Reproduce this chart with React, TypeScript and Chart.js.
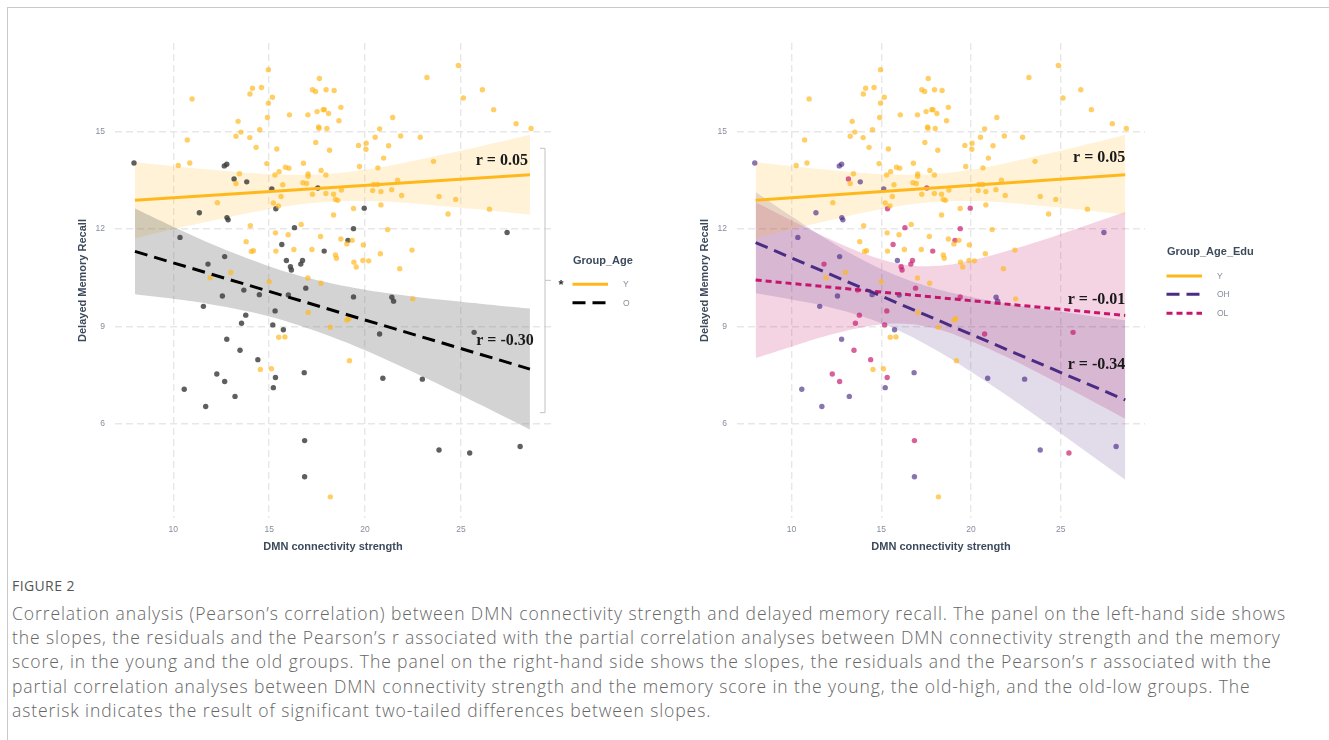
import React, { useEffect, useLayoutEffect, useRef, useState } from "react";
import { Chart, registerables } from "chart.js";

Chart.register(...registerables);

// ---------- data ----------
const xTicks = [10, 15, 20, 25];
const yTicks = [6, 9, 12, 15];

// x positions at which the confidence bands were read
const bandX = [8, 10, 12, 14, 16, 18, 20, 22, 24, 26, 28.6];
const youngBandUpper = [14.05, 13.93, 13.82, 13.72, 13.67, 13.69, 13.82, 14.03, 14.28, 14.54, 14.9];
const youngBandLower = [11.71, 11.99, 12.25, 12.5, 12.71, 12.83, 12.86, 12.81, 12.71, 12.6, 12.44];
const oldBandUpper = [12.63, 12.07, 11.54, 11.07, 10.66, 10.36, 10.13, 9.96, 9.82, 9.7, 9.55];
const oldBandLower = [9.99, 9.85, 9.68, 9.45, 9.14, 8.74, 8.27, 7.74, 7.18, 6.6, 5.83];
const ohBandUpper = [13.14, 12.39, 11.67, 11.04, 10.54, 10.17, 9.91, 9.7, 9.53, 9.38, 9.19];
const ohBandLower = [10.02, 9.83, 9.61, 9.3, 8.87, 8.29, 7.61, 6.88, 6.11, 5.32, 4.29];
const olBandUpper = [12.83, 12.26, 11.72, 11.25, 10.93, 10.86, 11.03, 11.32, 11.66, 12.03, 12.52];
const olBandLower = [8.03, 8.38, 8.72, 8.98, 9.09, 8.94, 8.55, 8.06, 7.5, 6.93, 6.16];

// fitted regression lines (end points)
const fitX = [8, 28.6];
const youngFit = [12.88, 13.67];
const oldFit = [11.31, 7.69];
const ohFit = [11.58, 6.74];
const olFit = [10.43, 9.34];

// young participants
const youngX = [
  14.96, 10.98, 14.0, 14.13, 14.6, 14.96, 15.17, 14.91, 13.38, 14.51, 13.53, 13.27, 13.99, 10.73, 14.32, 15.4,
  16.06, 17.02, 17.26, 17.42, 17.62, 17.97, 18.39, 17.5, 17.82, 17.88, 18.1, 18.74, 17.58, 17.6, 18.01, 18.64,
  17.43, 18.15, 19.66, 10.26, 10.86, 14.88, 15.85, 16.03, 16.79, 17.71, 19.71, 15.3, 15.52, 13.45, 13.27, 15.71,
  17.03, 17.03, 16.76, 16.95, 17.96, 17.26, 17.96, 18.36, 18.46, 18.58, 18.77, 15.62, 15.22, 15.48, 12.3, 18.36,
  19.4, 14.02, 16.67, 15.33, 15.99, 13.8, 16.29, 14.18, 14.07, 15.35, 17.23, 17.68, 18.74, 19.05, 19.33, 18.46,
  18.51, 19.42, 19.54, 13.0, 11.92, 15.0, 17.02, 17.7,
  17.04, 15.5, 15.82, 18.19, 19.05, 19.16, 14.54, 15.12, 19.19, 18.19,
  24.87, 23.23, 26.12, 25.13, 26.71, 21.44, 27.88, 28.66, 20.76, 20.53, 21.86, 22.88, 20.06, 20.05, 21.23, 20.97,
  20.67, 23.57, 21.7, 20.45, 20.66, 20.4, 20.83, 21.39, 21.91, 23.86, 24.73, 20.83, 24.33, 26.49, 21.18, 19.91,
  20.8, 22.45, 19.89, 20.19, 21.81, 22.49,
];
const youngY = [
  16.9, 16.0, 16.15, 16.33, 16.35, 15.87, 16.05, 15.43, 15.31, 15.05, 14.98, 14.85, 14.81, 14.74, 14.51, 14.46,
  15.51, 15.51, 16.28, 16.23, 16.63, 16.28, 16.26, 15.61, 15.67, 15.67, 15.55, 15.74, 15.14, 15.1, 15.09, 15.33,
  14.66, 14.42, 14.57, 13.95, 14.03, 14.01, 13.9, 13.87, 14.02, 13.8, 13.92, 13.66, 13.76, 13.7, 13.4, 13.36,
  13.69, 13.62, 13.42, 13.4, 13.66, 13.07, 13.09, 13.07, 12.91, 12.88, 13.2, 13.0, 12.8, 12.71, 12.81, 12.43,
  12.63, 12.1, 12.14, 11.88, 11.82, 11.61, 11.37, 11.33, 11.31, 11.32, 11.37, 11.77, 11.69, 11.54, 11.65, 11.2,
  11.1, 10.98, 10.83, 10.66, 10.5, 10.38, 10.49, 10.33,
  9.43, 8.67, 8.68, 8.98, 9.2, 9.24, 7.68, 7.7, 7.95, 3.76,
  17.03, 16.66, 16.28, 16.03, 15.67, 15.43, 15.24, 15.09, 15.08, 14.82, 14.86, 14.82, 14.64, 14.45, 14.56, 14.18,
  13.88, 14.08, 13.5, 13.37, 13.37, 13.18, 13.15, 13.21, 13.03, 13.0, 12.91, 12.74, 12.46, 12.61, 11.98, 11.51,
  11.24, 11.35, 11.03, 11.02, 10.78, 9.85,
];

// old participants (education: H = high, L = low)
const oldX = [
  7.95, 12.66, 12.79, 13.17, 13.83, 15.14, 17.54, 15.35, 11.36, 12.8, 12.86, 16.32, 19.4, 10.35, 15.66, 19.11,
  17.87, 15.9, 16.74, 16.65, 16.11, 16.16, 12.68, 11.81, 16.91, 19.4, 13.68, 14.49, 12.56, 11.57, 15.31, 13.78,
  13.56, 15.19, 15.74, 12.79, 13.48, 14.41, 12.27, 12.68, 15.33, 15.22, 16.83, 10.57, 13.22, 11.69, 16.85, 16.85,
  19.96, 27.41, 21.4, 21.49, 20.76, 20.93, 22.99, 25.69, 23.86, 25.46, 28.09, 16.0,
];
const oldY = [
  14.03, 13.94, 13.99, 13.54, 13.45, 13.23, 13.26, 12.62, 12.5, 12.35, 12.28, 12.04, 12.01, 11.74, 11.52, 11.65,
  11.32, 11.03, 11.03, 10.92, 10.84, 10.74, 11.15, 10.92, 10.18, 9.91, 10.12, 9.98, 9.94, 9.62, 9.48, 9.35,
  9.1, 9.05, 8.9, 8.61, 8.27, 7.98, 7.54, 7.31, 7.43, 7.12, 7.58, 7.07, 6.85, 6.54, 5.49, 4.38,
  12.64, 11.89, 9.9, 9.78, 8.77, 7.41, 7.38, 8.82, 5.2, 5.11, 5.31, 9.97,
];
const oldEdu = [
  "H", "H", "H", "L", "H", "H", "L", "L", "H", "H", "H", "L", "L", "H", "L", "L",
  "L", "H", "L", "L", "L", "L", "H", "L", "L", "L", "L", "H", "H", "H", "L", "L",
  "L", "L", "H", "H", "L", "L", "L", "L", "L", "H", "H", "H", "H", "H", "L", "H",
  "L", "H", "H", "H", "L", "H", "H", "L", "H", "L", "H", "H",
];

const leftLabels = [
  { text: "r = 0.05", x: 28.5, y: 14.1 },
  { text: "r = -0.30", x: 28.8, y: 8.55 },
];
const rightLabels = [
  { text: "r = 0.05", x: 28.6, y: 14.18 },
  { text: "r = -0.01", x: 28.6, y: 9.82 },
  { text: "r = -0.34", x: 28.6, y: 7.82 },
];

const captionLines = [
  "Correlation analysis (Pearson\u2019s correlation) between DMN connectivity strength and delayed memory recall. The panel on the left-hand side shows",
  "the slopes, the residuals and the Pearson\u2019s r associated with the partial correlation analyses between DMN connectivity strength and the memory",
  "score, in the young and the old groups. The panel on the right-hand side shows the slopes, the residuals and the Pearson\u2019s r associated with the",
  "partial correlation analyses between DMN connectivity strength and the memory score in the young, the old-high, and the old-low groups. The",
  "asterisk indicates the result of significant two-tailed differences between slopes.",
];

// ---------- styling ----------
const C_Y = "#FFB81C";
const C_O = "#000000";
const C_OH = "#4B2C85";
const C_OL = "#C5166B";
const SANS = '"Liberation Sans", Arial, sans-serif';
const CAPTION_WIDTH = 1274; // width of the first caption line in the reference

function pts(xs: number[], ys: number[], keep?: (i: number) => boolean) {
  const out: { x: number; y: number }[] = [];
  xs.forEach((x, i) => {
    if (!keep || keep(i)) out.push({ x, y: ys[i] });
  });
  return out;
}

function band(upper: number[], lower: number[], color: string, order: number) {
  return [
    {
      type: "line",
      data: pts(bandX, upper),
      borderWidth: 0,
      borderColor: "rgba(0,0,0,0)",
      backgroundColor: "rgba(0,0,0,0)",
      pointRadius: 0,
      fill: false,
      tension: 0.4,
      order,
    },
    {
      type: "line",
      data: pts(bandX, lower),
      borderWidth: 0,
      borderColor: "rgba(0,0,0,0)",
      backgroundColor: color,
      pointRadius: 0,
      fill: "-1",
      tension: 0.4,
      order,
    },
  ];
}

function fitLine(ys: number[], color: string, dash: number[]) {
  return {
    type: "line",
    data: pts(fitX, ys),
    borderColor: color,
    borderWidth: 3,
    borderDash: dash,
    borderCapStyle: "butt",
    pointRadius: 0,
    fill: false,
    tension: 0,
    order: 0,
  };
}

function dots(data: { x: number; y: number }[], color: string) {
  return {
    type: "scatter",
    data,
    backgroundColor: color,
    borderWidth: 0,
    pointRadius: 2.7,
    pointHoverRadius: 2.7,
    order: 1,
  };
}

const decorPlugin = {
  id: "decor",
  afterDraw(chart: any, _args: any, opts: any) {
    const { ctx, chartArea: ca, scales } = chart;
    const xs = scales.x;
    const ys = scales.y;
    ctx.save();
    // axis titles
    ctx.fillStyle = "#3d4a5c";
    ctx.font = `bold 11px ${SANS}`;
    ctx.textAlign = "center";
    ctx.textBaseline = "middle";
    ctx.fillText("DMN connectivity strength", (ca.left + ca.right) / 2, ca.bottom + 29);
    ctx.save();
    ctx.translate(ca.left - 32, (ca.top + ca.bottom) / 2);
    ctx.rotate(-Math.PI / 2);
    ctx.fillText("Delayed Memory Recall", 0, 0);
    ctx.restore();

    // r annotations
    ctx.font = 'bold 16px "Liberation Serif", "Times New Roman", serif';
    ctx.fillStyle = "#1a1a1a";
    ctx.textAlign = "right";
    for (const a of opts.labels) {
      ctx.fillText(a.text, xs.getPixelForValue(a.x), ys.getPixelForValue(a.y));
    }

    // legend
    const lg = opts.legend;
    const lx = ca.right + 22;
    ctx.textAlign = "left";
    ctx.font = `bold 11px ${SANS}`;
    ctx.fillStyle = "#3d4a5c";
    ctx.fillText(lg.title, lx, lg.titleY);
    for (const it of lg.items) {
      ctx.beginPath();
      ctx.strokeStyle = it.color;
      ctx.lineWidth = 3;
      ctx.lineCap = "butt";
      ctx.setLineDash(it.dash);
      ctx.moveTo(lx - 0.5, it.y);
      ctx.lineTo(lx + 35, it.y);
      ctx.stroke();
      ctx.setLineDash([]);
      ctx.font = `8.5px ${SANS}`;
      ctx.fillStyle = "#858d9c";
      ctx.fillText(it.label, lx + 50, it.y + 0.5);
    }

    // significance bracket
    if (opts.bracket) {
      const b = opts.bracket;
      const bx = ca.right - 6;
      const yt = ys.getPixelForValue(b.top);
      const yb = ys.getPixelForValue(b.bottom);
      const ym = ys.getPixelForValue(b.mid);
      ctx.strokeStyle = "#c2c2c2";
      ctx.lineWidth = 1;
      ctx.beginPath();
      ctx.moveTo(bx - 5, yt);
      ctx.lineTo(bx, yt);
      ctx.lineTo(bx, yb);
      ctx.lineTo(bx - 5, yb);
      ctx.moveTo(bx, ym);
      ctx.lineTo(bx + 6, ym);
      ctx.stroke();
      ctx.fillStyle = "#333";
      ctx.font = `bold 13px ${SANS}`;
      ctx.textAlign = "center";
      ctx.textBaseline = "alphabetic";
      ctx.fillText("*", ca.right + 10, ym + 8.5);
    }
    ctx.restore();
  },
};

function scaleOpts(min: number, max: number, ticks: number[], isX: boolean, size: number) {
  return {
    type: "linear",
    min,
    max,
    afterBuildTicks: (s: any) => {
      s.ticks = ticks.map((v) => ({ value: v }));
    },
    afterFit: (s: any) => {
      if (isX) s.height = size;
      else s.width = size;
    },
    grid: { color: "#e7e7e7", lineWidth: 1.4, drawTicks: false },
    border: { display: false, dash: [7, 4] },
    ticks: {
      padding: isX ? 7 : 10,
      color: "#858d9c",
      font: { family: SANS, size: 8.5 },
      callback: (v: any) => String(v),
    },
  };
}

function buildConfig(side: "left" | "right"): any {
  const young = pts(youngX, youngY);
  const yDots = "rgba(255,184,28,0.68)";
  let datasets: any[];
  let opts: any;
  if (side === "left") {
    datasets = [
      ...band(youngBandUpper, youngBandLower, "rgba(255,184,28,0.18)", 3),
      ...band(oldBandUpper, oldBandLower, "rgba(110,110,110,0.3)", 2),
      dots(young, yDots),
      dots(pts(oldX, oldY), "rgba(60,60,60,0.82)"),
      fitLine(youngFit, C_Y, []),
      fitLine(oldFit, C_O, [13, 7]),
    ];
    opts = {
      labels: leftLabels,
      legend: {
        title: "Group_Age",
        titleY: 260.7,
        items: [
          { label: "Y", color: C_Y, dash: [], y: 284.3 },
          { label: "O", color: C_O, dash: [13, 7], y: 302.7 },
        ],
      },
      bracket: { top: 14.48, bottom: 6.35, mid: 10.42 },
    };
  } else {
    datasets = [
      ...band(olBandUpper, olBandLower, "rgba(197,22,107,0.19)", 4),
      ...band(ohBandUpper, ohBandLower, "rgba(75,44,133,0.17)", 3),
      ...band(youngBandUpper, youngBandLower, "rgba(255,184,28,0.18)", 2),
      dots(young, yDots),
      dots(pts(oldX, oldY, (i) => oldEdu[i] === "H"), "rgba(75,44,133,0.66)"),
      dots(pts(oldX, oldY, (i) => oldEdu[i] === "L"), "rgba(197,22,107,0.68)"),
      fitLine(youngFit, C_Y, []),
      fitLine(ohFit, C_OH, [13, 7]),
      fitLine(olFit, C_OL, [6, 4]),
    ];
    opts = {
      labels: rightLabels,
      legend: {
        title: "Group_Age_Edu",
        titleY: 251.7,
        items: [
          { label: "Y", color: C_Y, dash: [], y: 276 },
          { label: "OH", color: C_OH, dash: [13, 7], y: 294.3 },
          { label: "OL", color: C_OL, dash: [6, 4], y: 313.3 },
        ],
      },
    };
  }
  const yAxisWidth = side === "left" ? 115 : 77;
  const rightPad = side === "left" ? 109 : 184;
  return {
    type: "scatter",
    data: { datasets },
    plugins: [decorPlugin],
    options: {
      animation: false,
      responsive: false,
      devicePixelRatio: 1,
      events: [],
      layout: { padding: { top: 43, right: rightPad, left: 0, bottom: 0 } },
      scales: {
        x: scaleOpts(6.96, 29.7, xTicks, true, 42),
        y: scaleOpts(3.11, 17.72, yTicks, false, yAxisWidth),
      },
      plugins: {
        legend: { display: false },
        tooltip: { enabled: false },
        decor: opts,
      },
    },
  };
}

function Panel({ side, left, width }: { side: "left" | "right"; left: number; width: number }) {
  const ref = useRef<HTMLCanvasElement>(null);
  useEffect(() => {
    const chart = new Chart(ref.current as HTMLCanvasElement, buildConfig(side));
    return () => chart.destroy();
  }, [side]);
  return (
    <canvas
      ref={ref}
      width={width}
      height={560}
      style={{ position: "absolute", left, top: 0, width, height: 560 }}
    />
  );
}

function Caption() {
  const firstRef = useRef<HTMLSpanElement>(null);
  const [spacing, setSpacing] = useState(0);
  useLayoutEffect(() => {
    const el = firstRef.current;
    if (!el) return;
    const w = el.getBoundingClientRect().width;
    const n = captionLines[0].length;
    setSpacing((CAPTION_WIDTH - w) / n);
  }, []);
  return (
    <div
      style={{
        position: "absolute",
        left: 12,
        top: 600.5,
        fontFamily: '"Open Sans", sans-serif',
        fontWeight: 300,
        fontSize: 17.5,
        color: "#666",
        lineHeight: "24.4px",
      }}
    >
      {captionLines.map((l, i) => (
        <div key={i} style={{ whiteSpace: "nowrap", letterSpacing: spacing }}>
          {i === 0 ? (
            <span ref={firstRef} style={{ letterSpacing: 0 }}>
              {l}
            </span>
          ) : (
            l
          )}
        </div>
      ))}
    </div>
  );
}

function CaptionFitted() {
  // measure first line with no spacing, then apply the spacing to every line
  const measureRef = useRef<HTMLSpanElement>(null);
  const [spacing, setSpacing] = useState<number | null>(null);
  useLayoutEffect(() => {
    const el = measureRef.current;
    if (!el) return;
    const w = el.getBoundingClientRect().width;
    setSpacing((CAPTION_WIDTH - w) / captionLines[0].length);
  }, []);
  const base: React.CSSProperties = {
    fontFamily: '"Open Sans", sans-serif',
    fontWeight: 300,
    fontSize: 17.5,
    color: "#666",
    lineHeight: "24.4px",
    whiteSpace: "nowrap",
  };
  return (
    <>
      <span
        ref={measureRef}
        style={{ ...base, position: "absolute", left: 0, top: -200, visibility: "hidden" }}
      >
        {captionLines[0]}
      </span>
      <div style={{ position: "absolute", left: 12, top: 600.5 }}>
        {captionLines.map((l, i) => (
          <div key={i} style={{ ...base, letterSpacing: spacing ?? 0 }}>
            {l}
          </div>
        ))}
      </div>
    </>
  );
}

export default function App() {
  return (
    <div
      style={{
        position: "absolute",
        left: 0,
        top: 0,
        width: 1329,
        height: 740,
        background: "#fff",
        overflow: "hidden",
      }}
    >
      <div
        style={{
          position: "absolute",
          left: 7,
          top: 7,
          width: 1330,
          height: 740,
          borderTop: "1.5px solid #c9c9c9",
          borderLeft: "1.5px solid #c9c9c9",
        }}
      />
      <Panel side="left" left={0} width={660} />
      <Panel side="right" left={660} width={669} />
      <div
        style={{
          position: "absolute",
          left: 12,
          top: 576,
          fontFamily: '"Open Sans", sans-serif',
          fontSize: 14,
          letterSpacing: 0.4,
          color: "#555",
          lineHeight: "20px",
          whiteSpace: "nowrap",
        }}
      >
        FIGURE 2
      </div>
      <CaptionFitted />
    </div>
  );
}
